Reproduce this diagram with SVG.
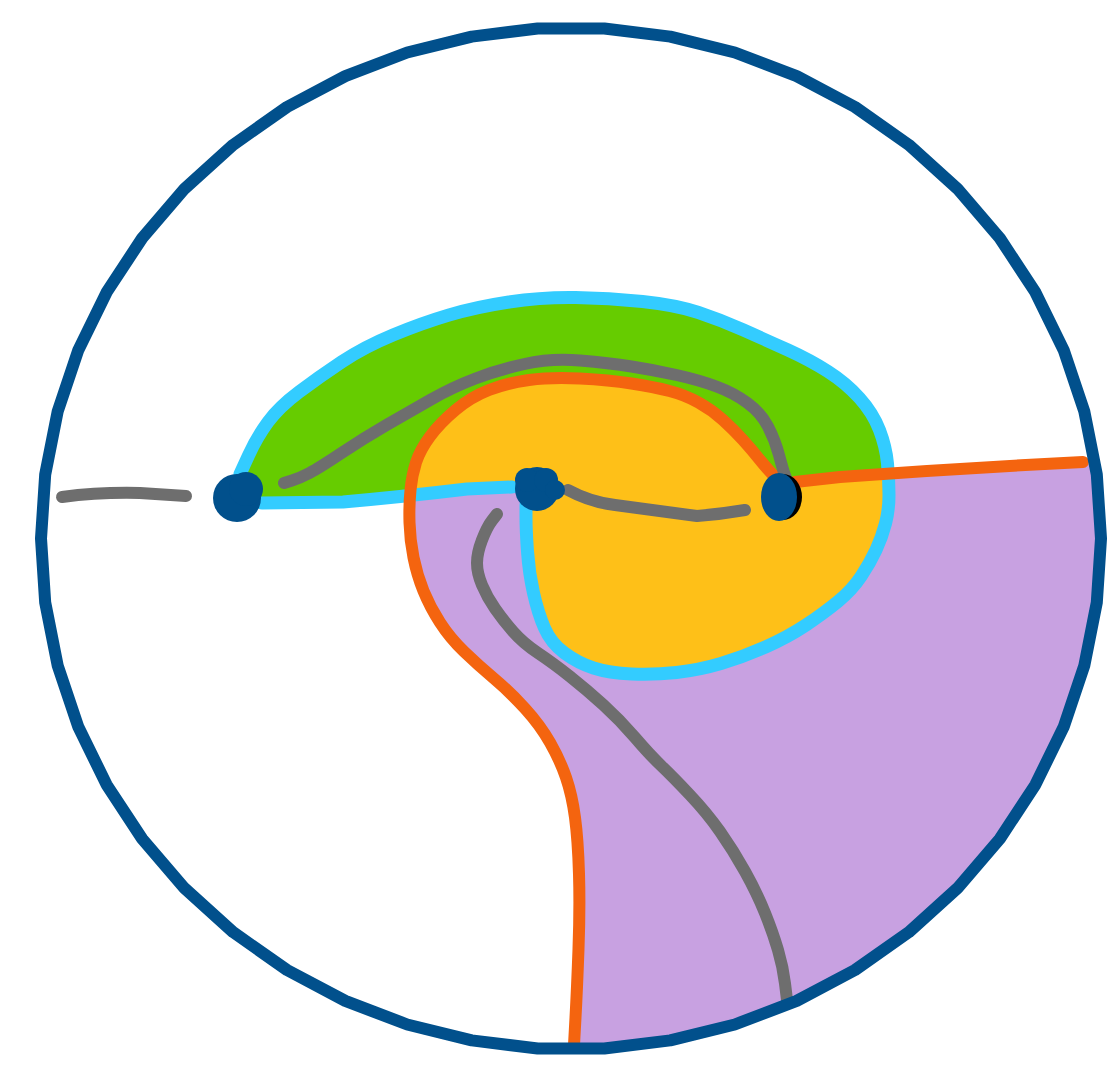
<svg xmlns="http://www.w3.org/2000/svg" width="1119" height="1073" viewBox="0 0 1119 1073">
<style>
.ln{fill:none;stroke-linecap:round;stroke-linejoin:round}
.blue{stroke:#01508c;stroke-width:12}
.cyan{stroke:#33ccff;stroke-width:13}
.orange{stroke:#f4640f;stroke-width:12}
.gray{stroke:#6e6e6e;stroke-width:12}
.node{fill:#01508c}
</style>
<rect x="0" y="0" width="1119" height="1073" fill="#ffffff"/>
<g id="regions">
<path id="purple" fill="#c8a1e1" d="M412,490 L790,484 L1090,464 L1096.8,474.5 L1101,538.5 L1096.8,602.5 L1084.3,665.6 L1063.8,726.6 L1035.4,784.7 L999.8,838.9 L957.4,888.3 L908.8,932.2 L855,970 L796.7,1000.9 L734.8,1024.5 L670.3,1040.4 L604.3,1048.5 L575,1048.5 L578,986 L580,908 L578,840 L572,795 L560,760 L540,725 L510,692 L478,665 L450,638 L430,607 L417,575 L410,540 L409,505 Z"/>
<path id="green" fill="#66cc00" d="M240,474 L248.5,455.5 Q257,437 268,422 Q279,407 299,392 Q319,377 341.5,362 Q364,347 393,335 Q422,323 449,315 Q476,307 509,302 Q542,297 575.5,297.5 Q609,298 642.5,301.5 Q676,305 698.5,312.5 Q721,320 743.5,330 Q766,340 788,350 Q810,360 828,371.5 Q846,383 859.5,398 Q873,413 879.5,430 Q886,447 887.5,463.5 L888,476 L790,483 L420,490 L343,502 L262,503 Z"/>
<path id="yellow" fill="#fec018" d="M418,492 L410.5,490 Q412,475 416,462.5 Q420,450 430,436.5 Q440,423 455.5,410 Q471,397 489,390 Q507,383 529,380 Q551,377 580,378.5 Q609,380 631.5,383.5 Q654,387 669.5,391 Q685,395 698.5,402.5 Q712,410 723,420 Q734,430 743,440 Q752,450 760,460 Q768,470 778,480 L887.5,470 Q889,480 889,495 Q889,510 885.5,523.5 Q882,537 876,550 Q870,563 861,576.5 Q852,590 838,601.5 Q824,613 806,625 Q788,637 765.5,647 Q743,657 721,663.5 Q699,670 676.5,672.5 Q654,675 631.5,674 Q609,673 593.5,668 Q578,663 564.5,653 Q551,643 544.5,628 Q538,613 533.5,593 Q529,573 527.5,551.5 Q526,530 526,517.5 L526,490 Z"/>
</g>
<g id="connectors">
<path class="ln cyan" d="M240,474 L248.5,455.5 Q257,437 268,422 Q279,407 299,392 Q319,377 341.5,362 Q364,347 393,335 Q422,323 449,315 Q476,307 509,302 Q542,297 575.5,297.5 Q609,298 642.5,301.5 Q676,305 698.5,312.5 Q721,320 743.5,330 Q766,340 788,350 Q810,360 828,371.5 Q846,383 859.5,398 Q873,413 879.5,430 Q886,447 887.5,463.5 Q889,480 889,495 Q889,510 885.5,523.5 Q882,537 876,550 Q870,563 861,576.5 Q852,590 838,601.5 Q824,613 806,625 Q788,637 765.5,647 Q743,657 721,663.5 Q699,670 676.5,672.5 Q654,675 631.5,674 Q609,673 593.5,668 Q578,663 564.5,653 Q551,643 544.5,628 Q538,613 533.5,593 Q529,573 527.5,551.5 Q526,530 526,517.5 L526,505"/>
<path class="ln cyan" d="M262,503 L343,502 Q400,497 467,489 L512,487"/>
<path class="ln orange" d="M574,1045 L575.5,1017.5 Q577,990 578.5,949 Q580,908 579,874 Q578,840 575,817.5 Q572,795 566,777.5 Q560,760 550,742.5 Q540,725 525,708.5 Q510,692 494,678.5 Q478,665 464,651.5 Q450,638 440,622.5 Q430,607 423.5,591 Q417,575 413.5,557.5 Q410,540 409.5,522.5 Q409,505 410.5,490 Q412,475 416,462.5 Q420,450 430,436.5 Q440,423 455.5,410 Q471,397 489,390 Q507,383 529,380 Q551,377 580,378.5 Q609,380 631.5,383.5 Q654,387 669.5,391 Q685,395 698.5,402.5 Q712,410 723,420 Q734,430 743,440 Q752,450 760,460 Q768,470 778,480"/>
<path class="ln orange" d="M795,482 L840,477 Q960,468 1083,462"/>
<path class="ln gray" d="M62,497 Q100,492 140,493 L186,496"/>
<path class="ln gray" d="M284,483 L292,480.5 Q300,478 309.5,473 Q319,468 341.5,453 Q364,438 386.5,425 Q409,412 431,399.5 Q453,387 475.5,378.5 Q498,370 524.5,364 Q551,358 580,360.5 Q609,363 631.5,366.5 Q654,370 676.5,375 Q699,380 716.5,386.5 Q734,393 747.5,403 Q761,413 768,426.5 Q775,440 779,455 Q783,470 784.5,474 L786,478"/>
<path class="ln gray" d="M568,490 Q590,502 615,505 L697,516 Q722,514 745,510"/>
<path class="ln gray" d="M497,514 L492,520.5 Q487,527 482,540 Q477,553 477,563 Q477,573 482,585 Q487,597 495,608.5 Q503,620 513,631.5 Q523,643 538,653 Q553,663 570,676.5 Q587,690 603.5,705 Q620,720 635,737.5 Q650,755 661.5,766 Q673,777 690,795 Q707,813 720,831.5 Q733,850 745,871.5 Q757,893 765,913 Q773,933 778,950 Q783,967 785,983.5 L787,1000"/>
</g>
<g id="outline">
<polygon class="ln blue" points="1101,538.5 1096.8,474.5 1084.3,411.4 1063.8,350.4 1035.4,292.3 999.8,238.1 957.4,188.7 908.8,144.8 855,107 796.7,76.1 734.8,52.5 670.3,36.6 604.3,28.5 537.7,28.5 471.7,36.6 407.2,52.5 345.3,76.1 287,107 233.2,144.8 184.6,188.7 142.2,238.1 106.6,292.3 78.2,350.4 57.7,411.4 45.2,474.5 41,538.5 45.2,602.5 57.7,665.6 78.2,726.6 106.6,784.7 142.2,838.9 184.6,888.3 233.2,932.2 287,970 345.3,1000.9 407.2,1024.5 471.7,1040.4 537.7,1048.5 604.3,1048.5 670.3,1040.4 734.8,1024.5 796.7,1000.9 855,970 908.8,932.2 957.4,888.3 999.8,838.9 1035.4,784.7 1063.8,726.6 1084.3,665.6 1096.8,602.5"/>
</g>
<g id="node-left">
<circle class="node" cx="237" cy="498" r="24"/>
<circle class="node" cx="246" cy="489" r="17"/>
</g>
<g id="node-middle">
<circle class="node" cx="537" cy="489" r="22"/>
<circle class="node" cx="527" cy="480" r="12"/>
<circle class="node" cx="546" cy="480" r="12"/>
<circle class="node" cx="555" cy="490" r="10"/>
</g>
<g id="node-right">
<ellipse cx="783" cy="497" rx="19" ry="23" fill="#000000"/>
<ellipse class="node" cx="779" cy="497" rx="18" ry="24"/>
</g>
</svg>
